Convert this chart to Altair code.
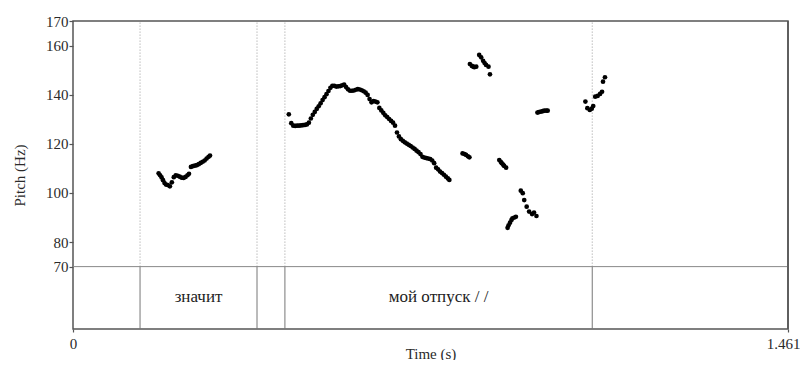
import altair as alt
import pandas as pd

# ---- data ----
seg_a_t = [0.175, 0.178, 0.181, 0.184, 0.187, 0.190, 0.194, 0.198, 0.202, 0.206, 0.210, 0.214,
           0.218, 0.222, 0.226, 0.230, 0.234, 0.237, 0.241, 0.245, 0.249, 0.253, 0.257, 0.261,
           0.265, 0.269, 0.273, 0.277, 0.280]
seg_a_hz = [108.0, 107.2, 106.3, 105.2, 104.0, 103.4, 103.2, 102.7, 104.3, 106.4, 107.2, 107.0,
            106.6, 106.2, 106.1, 106.5, 107.2, 107.8, 110.6, 110.9, 111.1, 111.3, 111.7, 112.2,
            112.7, 113.2, 114.0, 114.7, 115.2]

seg_b_t = [0.441, 0.446, 0.450, 0.454, 0.458, 0.462, 0.466, 0.470, 0.474, 0.478, 0.482, 0.486,
           0.490, 0.494, 0.498, 0.502, 0.506, 0.510, 0.514, 0.518, 0.522, 0.526, 0.530, 0.534,
           0.538, 0.542, 0.546, 0.550, 0.554, 0.558, 0.562, 0.566, 0.570, 0.574, 0.578, 0.582,
           0.586, 0.590, 0.594, 0.598, 0.602, 0.606, 0.610, 0.614, 0.618, 0.622, 0.626, 0.630,
           0.634, 0.638, 0.642, 0.646, 0.650, 0.654, 0.658, 0.662, 0.666, 0.670, 0.674, 0.678,
           0.682, 0.686, 0.690, 0.694, 0.698, 0.702, 0.706, 0.710, 0.714, 0.718, 0.722, 0.726,
           0.730, 0.734, 0.738, 0.742, 0.746, 0.750, 0.754, 0.758, 0.762, 0.766, 0.769]
seg_b_hz = [132.0, 128.4, 127.4, 127.3, 127.4, 127.4, 127.5, 127.6, 127.7, 127.9, 128.6, 130.3,
            131.8, 133.0, 134.2, 135.3, 136.5, 137.8, 139.0, 140.2, 141.5, 142.8, 143.6, 143.6,
            143.3, 143.4, 143.5, 143.8, 144.1, 143.1, 142.2, 141.6, 141.6, 141.7, 142.0, 142.3,
            142.1, 141.8, 141.4, 140.8, 139.9, 138.2, 136.9, 137.4, 137.2, 136.9, 134.6, 133.6,
            132.6, 131.6, 130.9, 130.1, 129.3, 128.6, 127.4, 124.6, 123.0, 121.9, 121.2, 120.6,
            120.1, 119.6, 119.1, 118.5, 117.9, 117.2, 116.6, 115.8, 114.7, 114.4, 114.2, 114.0,
            113.8, 113.2, 112.1, 110.3, 109.6, 108.7, 108.1, 107.4, 106.6, 105.9, 105.3]

seg_c_t = [0.796, 0.800, 0.803, 0.807, 0.810]
seg_c_hz = [116.1, 115.8, 115.5, 114.9, 114.5]

seg_d_t = [0.811, 0.815, 0.818, 0.820, 0.824, 0.830, 0.834, 0.838, 0.841, 0.844, 0.849, 0.852]
seg_d_hz = [152.5, 151.7, 151.4, 151.2, 151.4, 156.2, 155.2, 153.8, 152.9, 152.1, 151.4, 148.3]

seg_e_t = [0.871, 0.874, 0.876, 0.879, 0.881, 0.885]
seg_e_hz = [113.4, 112.7, 112.1, 111.5, 111.0, 110.3]

seg_f_t = [0.888, 0.890, 0.893, 0.896, 0.898, 0.902, 0.905]
seg_f_hz = [85.8, 86.8, 87.9, 89.0, 89.7, 90.0, 90.3]

seg_g_t = [0.915, 0.919, 0.922, 0.927, 0.932, 0.938, 0.942, 0.947]
seg_g_hz = [100.9, 99.9, 97.1, 94.4, 92.4, 91.4, 92.0, 90.6]

seg_h_t = [0.949, 0.952, 0.956, 0.960, 0.963, 0.967, 0.970]
seg_h_hz = [132.7, 132.9, 133.1, 133.3, 133.5, 133.5, 133.5]

seg_i_t = [1.047, 1.051, 1.056, 1.060, 1.063, 1.067, 1.072, 1.077, 1.081, 1.083, 1.087]
seg_i_hz = [137.2, 134.5, 133.8, 134.3, 135.4, 139.2, 139.5, 140.3, 141.2, 145.3, 147.1]

boundaries = [0.137, 0.376, 0.433, 1.061]
tier_labels = ["значит", "мой отпуск / /"]
tier_starts = [0.137, 0.433]
tier_ends = [0.376, 1.061]

y_ticks = [70, 80, 100, 120, 140, 160, 170]
x_ticks = [0, 1.461]
t_max = 1.461
hz_top = 170
hz_pitch_floor = 70
hz_bottom = 44.6  # bottom of tier strip in pitch units

# ---- build tables ----
all_t = seg_a_t + seg_b_t + seg_c_t + seg_d_t + seg_e_t + seg_f_t + seg_g_t + seg_h_t + seg_i_t
all_hz = seg_a_hz + seg_b_hz + seg_c_hz + seg_d_hz + seg_e_hz + seg_f_hz + seg_g_hz + seg_h_hz + seg_i_hz
pitch = pd.DataFrame({"t": all_t, "hz": all_hz})
bnd = pd.DataFrame({"t": boundaries, "top": hz_top, "floor": hz_pitch_floor, "bottom": hz_bottom})
tiers = pd.DataFrame({"label": tier_labels, "start": tier_starts, "end": tier_ends})

FONT = "Liberation Serif"

x_scale = alt.Scale(domain=[0, t_max], nice=False, zero=False)
y_scale = alt.Scale(domain=[hz_bottom, hz_top], nice=False, zero=False)

x_enc = alt.X("t:Q", scale=x_scale,
              axis=alt.Axis(values=x_ticks, format=".4~g", title="Time (s)", grid=False,
                            domain=False, tickSize=3, labelFlush=False, labelPadding=4,
                            labelOffset={"condition": {"test": "datum.value > 1", "value": -5}, "value": 0},
                            titleBaseline="alphabetic", titleY=29))
y_enc = alt.Y("hz:Q", scale=y_scale,
              axis=alt.Axis(values=y_ticks, title="Pitch (Hz)", grid=False, domain=False,
                            tickSize=4, labelPadding=1, titlePadding=18))

dotted = alt.Chart(bnd).mark_rule(color="#9a9a9a", strokeWidth=1, strokeDash=[1, 2]).encode(
    x=alt.X("t:Q", scale=x_scale), y=alt.Y("floor:Q", scale=y_scale), y2="top:Q")
solid = alt.Chart(bnd).mark_rule(color="#777777", strokeWidth=1).encode(
    x=alt.X("t:Q", scale=x_scale), y=alt.Y("bottom:Q", scale=y_scale), y2="floor:Q")
hline = alt.Chart(pd.DataFrame({"v": [hz_pitch_floor]})).mark_rule(color="#888888", strokeWidth=1).encode(
    y=alt.Y("v:Q", scale=y_scale))
right_edge = alt.Chart(pd.DataFrame({"r": [t_max]})).mark_rule(color="#555555", strokeWidth=1.5).encode(
    x=alt.X("r:Q", scale=x_scale))

points = alt.Chart(pitch).mark_circle(size=22, color="black", opacity=1).encode(x=x_enc, y=y_enc)

texts = alt.Chart(tiers).transform_calculate(mid="(datum.start + datum.end) / 2").mark_text(
    font=FONT, fontSize=17, color="#222222", baseline="middle", align="center").encode(
    x=alt.X("mid:Q", scale=x_scale), y=alt.value(276), text="label:N")

chart = alt.layer(dotted, solid, hline, right_edge, points, texts).properties(
    width=715, height=308,
    autosize=alt.AutoSizeParams(type="none"),
    padding={"left": 65, "top": 13, "right": 12, "bottom": 31},
).configure_view(stroke="#555555", strokeWidth=1.5).configure_axis(
    labelFont=FONT, titleFont=FONT, labelFontSize=15, titleFontSize=15,
    labelColor="#2a2a2a", titleColor="#2a2a2a", titleFontWeight="normal",
    tickColor="#555555", tickWidth=1.2)

chart.save("out.html", embed_options={"renderer": "svg", "actions": False})
